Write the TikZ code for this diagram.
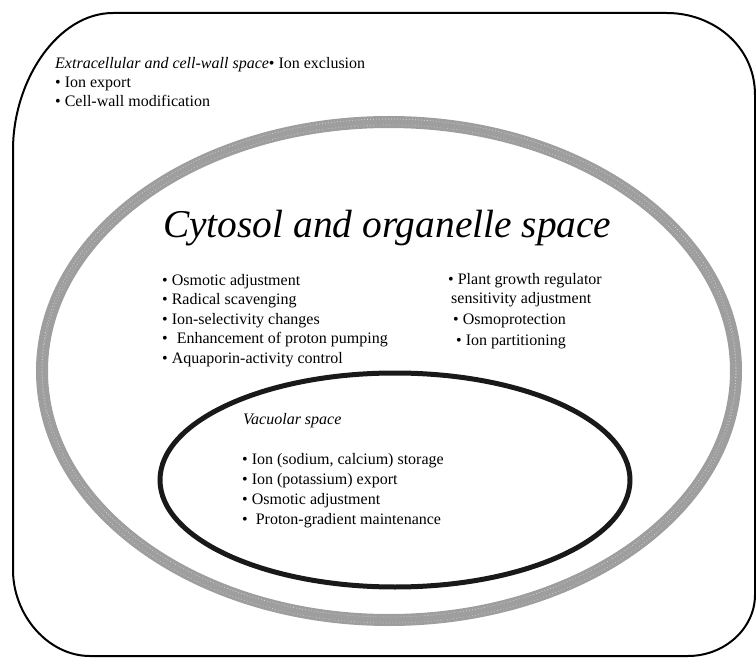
\documentclass[tikz,border=0pt]{standalone}
\usepackage{fontspec}
\setmainfont{Liberation Serif}
\begin{document}
\begin{tikzpicture}[x=1pt,y=-1pt,
  frame/.style={draw=black,line width=2pt},
  ring/.style={draw=black!38,line width=12pt},
  vac/.style={draw=black!90,line width=5pt},
  body/.style={anchor=base west,inner sep=0pt,font=\fontsize{16}{19}\selectfont},
  title/.style={anchor=base west,inner sep=0pt,font=\fontsize{39.4}{44}\selectfont\itshape}]
\useasboundingbox (0,0) rectangle (756,658);
% outer cell frame
\draw[frame] (13,150) .. controls (13,80) and (58,13) .. (113,13)
  -- (667,13) .. controls (712,13) and (755,45) .. (755,95)
  -- (755,595) .. controls (755,628) and (725,656) .. (688,656)
  -- (90,656) .. controls (48,656) and (13,615) .. (13,570) -- cycle;
% cytosol ring
\draw[ring] (389,371) ellipse [x radius=347, y radius=249];
\draw[white,line width=0.6pt,dash pattern=on 0.8pt off 2.2pt,opacity=0.6] (389,368) ellipse [x radius=347, y radius=249];
\draw[white,line width=0.6pt,dash pattern=on 0.6pt off 2.6pt,opacity=0.6] (389,374) ellipse [x radius=347, y radius=249];
% vacuole
\draw[vac] (395,480) ellipse [x radius=235, y radius=107];
% extracellular texts
\node[body] (e1) at (55,69) {\textit{Extracellular and cell-wall space}• Ion exclusion};
\node[body] (e2) at (55,88) {• Ion export};
\node[body] (e3) at (55,107) {• Cell-wall modification};
% cytosol
\node[title] (t) at (163,238) {Cytosol and organelle space};
\node[body] (c1) at (162,286) {• Osmotic adjustment};
\node[body] (c2) at (162,305) {• Radical scavenging};
\node[body] (c3) at (162,324) {• Ion-selectivity changes};
\node[body] (c4) at (162,343) {•\hspace{9pt}Enhancement of proton pumping};
\node[body] (c5) at (162,363) {• Aquaporin-activity control};
\node[body] (r1) at (448,284) {• Plant growth regulator};
\node[body] (r2) at (451,304) {sensitivity adjustment};
\node[body] (r3) at (453,324) {• Osmoprotection};
\node[body] (r4) at (456,345) {• Ion partitioning};
% vacuole texts
\node[body,font=\fontsize{16}{19}\selectfont\itshape] (v0) at (243,424) {Vacuolar space};
\node[body] (v1) at (242,464) {• Ion (sodium, calcium) storage};
\node[body] (v2) at (242,484) {• Ion (potassium) export};
\node[body] (v3) at (242,504) {• Osmotic adjustment};
\node[body] (v4) at (242,524) {•\hspace{8pt}Proton-gradient maintenance};
\end{tikzpicture}
\end{document}
